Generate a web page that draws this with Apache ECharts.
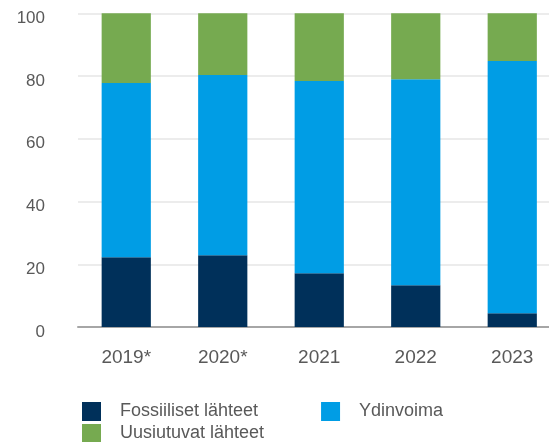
<!DOCTYPE html>
<html>
<head>
<meta charset="utf-8">
<script src="https://cdn.jsdelivr.net/npm/echarts@6/dist/echarts.min.js"></script>
<style>
html,body{margin:0;padding:0;background:#fff;}
#chart{width:549px;height:442px;}
</style>
</head>
<body>
<div id="chart"></div>
<script>
const categories = ['2019*', '2020*', '2021', '2022', '2023'];
const fossiiliset = [22.2, 22.9, 17.1, 13.3, 4.4];
const ydinvoima = [55.6, 57.4, 61.3, 65.7, 80.4];
const uusiutuvat = [22.2, 19.7, 21.6, 21.0, 15.2];
const yTicks = [0, 20, 40, 60, 80, 100];

const textColor = '#595959';
const fontFamily = '"Liberation Sans", Arial, sans-serif';

const chart = echarts.init(document.getElementById('chart'), null, {renderer: 'canvas'});
chart.setOption({
  animation: false,
  grid: {left: 78, width: 482.5, top: 13.3, height: 313.7, containLabel: false, outerBoundsMode: 'none'},
  legend: [
    {
      data: ['Fossiiliset lähteet', 'Ydinvoima'],
      left: 82, top: 402, padding: 0,
      itemWidth: 19, itemHeight: 19, itemGap: 63,
      icon: 'rect',
      textStyle: {color: textColor, fontSize: 18, fontFamily: fontFamily, padding: [0, 0, 0, 14]}
    },
    {
      data: ['Uusiutuvat lähteet'],
      left: 82, top: 424, padding: 0,
      itemWidth: 19, itemHeight: 19,
      icon: 'rect',
      textStyle: {color: textColor, fontSize: 18, fontFamily: fontFamily, padding: [0, 0, 0, 14]}
    }
  ],
  xAxis: {
    type: 'category',
    data: categories,
    axisTick: {show: false},
    axisLine: {lineStyle: {color: '#a6a6a6', width: 2}},
    axisLabel: {color: textColor, fontSize: 19, fontFamily: fontFamily, margin: 21}
  },
  yAxis: {
    type: 'value',
    min: yTicks[0], max: yTicks[yTicks.length - 1], interval: 20,
    axisLine: {show: false},
    axisTick: {show: false},
    splitLine: {lineStyle: {color: '#e6e6e6', width: 1.5}},
    axisLabel: {color: textColor, fontSize: 17, fontFamily: fontFamily, margin: 33, verticalAlign: 'top', lineHeight: 10}
  },
  series: [
    {name: 'Fossiiliset lähteet', type: 'bar', stack: 'total', data: fossiiliset, barWidth: '51%', itemStyle: {color: '#00305a'}},
    {name: 'Ydinvoima', type: 'bar', stack: 'total', data: ydinvoima, barWidth: '51%', itemStyle: {color: '#009de5'}},
    {name: 'Uusiutuvat lähteet', type: 'bar', stack: 'total', data: uusiutuvat, barWidth: '51%', itemStyle: {color: '#76aa50'}}
  ]
});
</script>
</body>
</html>
